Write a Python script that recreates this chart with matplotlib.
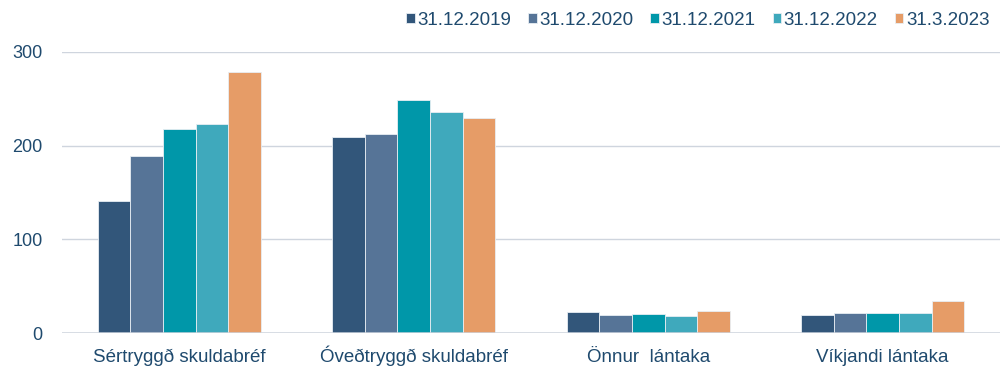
import numpy as np
import matplotlib.pyplot as plt

plt.rcParams['font.family'] = ['Liberation Sans', 'DejaVu Sans']

categories = ['Sértryggð skuldabréf', 'Óveðtryggð skuldabréf', 'Önnur  lántaka', 'Víkjandi lántaka']
periods = ['31.12.2019', '31.12.2020', '31.12.2021', '31.12.2022', '31.3.2023']
values_2019 = [141, 209, 23, 19]
values_2020 = [189, 212, 19, 21]
values_2021 = [218, 249, 20, 21]
values_2022 = [223, 236, 18, 21]
values_2023q1 = [279, 230, 24, 34]
colors = ['#32567a', '#567497', '#0097a9', '#3fa9bc', '#e69c67']
text_color = '#1f4a6e'

series = [values_2019, values_2020, values_2021, values_2022, values_2023q1]

fig = plt.figure(figsize=(10, 3.66), dpi=100)
ax = fig.add_axes([0.062, 0.09, 0.938, 0.768])

x = np.arange(len(categories))
width = 0.139
for i, (vals, label, c) in enumerate(zip(series, periods, colors)):
    offset = (i - 2) * width
    ax.bar(x + offset, vals, width, color=c, label=label,
           edgecolor='#e8eef3', linewidth=0.6, zorder=3)

ax.set_xlim(-0.5, 3.5)
ax.set_ylim(0, 300)
ax.set_yticks([0, 100, 200, 300])
ax.set_xticks(x)
ax.set_xticklabels(categories, va='baseline')
ax.grid(axis='y', color='#cfd5de', linewidth=1.0, zorder=0)
ax.axhline(0, color='#cfd5de', linewidth=1.8, zorder=4)
for side in ['top', 'right', 'left', 'bottom']:
    ax.spines[side].set_visible(False)
ax.tick_params(axis='both', length=0, colors=text_color)
ax.tick_params(axis='y', pad=14, labelsize=13)
ax.tick_params(axis='x', pad=21, labelsize=13.5)

ax.legend(loc='center right', bbox_to_anchor=(0.997, 0.945), bbox_transform=fig.transFigure,
          ncol=5, frameon=False, fontsize=13.5, labelcolor=text_color,
          handlelength=0.45, handleheight=0.45, handletextpad=0.15,
          columnspacing=0.9, borderaxespad=0)

fig.savefig('out.png', dpi=100)
